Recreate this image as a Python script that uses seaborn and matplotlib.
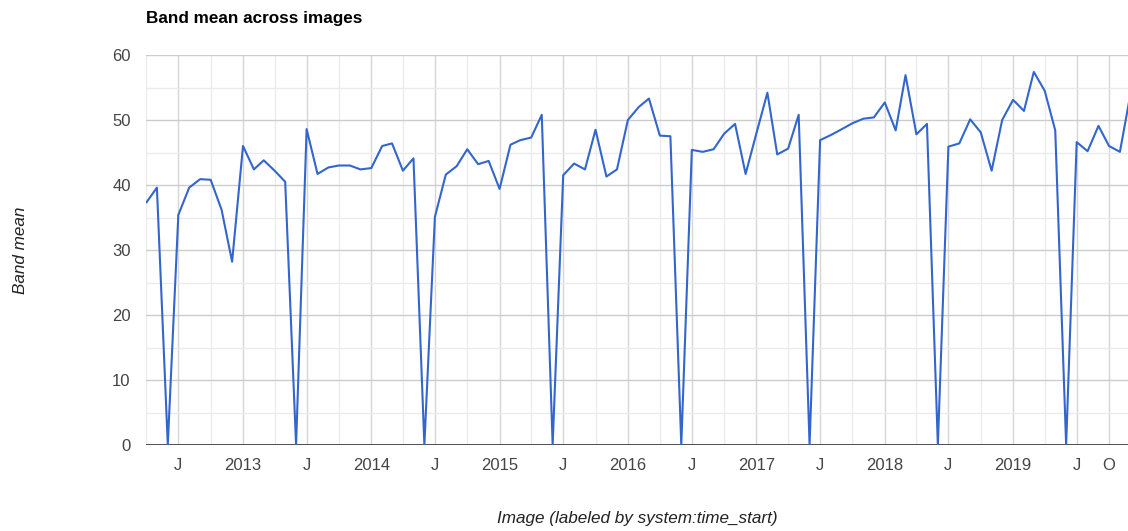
import matplotlib
matplotlib.use("Agg")
import matplotlib.pyplot as plt
import matplotlib.dates as mdates
import numpy as np
import pandas as pd
import seaborn as sns

# Monthly band mean values, one list per calendar year (2012 starts in April)
vals_2012 = [37.3, 39.6, 0.0, 35.4, 39.6, 40.9, 40.8, 36.2, 28.2]
vals_2013 = [46.0, 42.4, 43.8, 42.2, 40.5, 0.0, 48.6, 41.7, 42.7, 43.0, 43.0, 42.4]
vals_2014 = [42.6, 46.0, 46.4, 42.2, 44.1, 0.0, 35.1, 41.6, 42.9, 45.5, 43.2, 43.7]
vals_2015 = [39.4, 46.2, 46.9, 47.3, 50.8, 0.0, 41.5, 43.3, 42.4, 48.5, 41.3, 42.4]
vals_2016 = [50.0, 52.0, 53.3, 47.6, 47.5, 0.0, 45.4, 45.1, 45.5, 47.9, 49.4, 41.7]
vals_2017 = [48.0, 54.2, 44.7, 45.6, 50.8, 0.0, 46.9, 47.7, 48.6, 49.5, 50.2, 50.4]
vals_2018 = [52.7, 48.4, 56.9, 47.8, 49.4, 0.0, 45.9, 46.4, 50.1, 48.1, 42.2, 50.0]
vals_2019 = [53.1, 51.4, 57.4, 54.5, 48.4, 0.0, 46.6, 45.2, 49.1, 46.0, 45.1, 54.0]

series_start = "2012-04-01"

# Axis tick positions and their labels
tick_dates = ["2012-07-01", "2013-01-01", "2013-07-01", "2014-01-01", "2014-07-01",
              "2015-01-01", "2015-07-01", "2016-01-01", "2016-07-01", "2017-01-01",
              "2017-07-01", "2018-01-01", "2018-07-01", "2019-01-01", "2019-07-01",
              "2019-10-01"]
tick_labels = ["J", "2013", "J", "2014", "J", "2015", "J", "2016", "J", "2017",
               "J", "2018", "J", "2019", "J", "O"]
y_ticks = [0, 10, 20, 30, 40, 50, 60]

values = (vals_2012 + vals_2013 + vals_2014 + vals_2015 + vals_2016 +
          vals_2017 + vals_2018 + vals_2019)
dates = pd.date_range(series_start, periods=len(values), freq="MS")
df = pd.DataFrame({"date": dates, "band_mean": values})

sns.set_style("white")
plt.rcParams["font.family"] = ["Liberation Sans", "DejaVu Sans"]

fig = plt.figure(figsize=(11.28, 5.31), dpi=100)
ax = fig.add_axes([146 / 1128, 1 - 445 / 531, 1 - 146 / 1128, 390 / 531])

sns.lineplot(data=df, x="date", y="band_mean", ax=ax, color="#3366cc",
             linewidth=1.5, zorder=3)

ax.set_ylim(0, 60)
ax.set_xlim(mdates.date2num(pd.Timestamp("2012-03-31")),
            mdates.date2num(pd.Timestamp("2019-11-24")))

# Gridlines: labeled ticks slightly darker, quarter/half-step lines lighter
ax.set_yticks(y_ticks)
ax.set_yticks([5, 15, 25, 35, 45, 55], minor=True)
ax.set_xticks([mdates.date2num(pd.Timestamp(d)) for d in tick_dates])
ax.set_xticklabels(tick_labels)
minor_x = pd.date_range("2012-04-01", "2019-10-01", freq="QS-JAN")
minor_x = [d for d in minor_x if d.strftime("%Y-%m-%d") not in tick_dates]
ax.set_xticks([mdates.date2num(d) for d in minor_x], minor=True)

ax.grid(which="major", axis="y", color="#cccccc", linewidth=1.0, zorder=0)
ax.grid(which="major", axis="x", color="#d6d6d6", linewidth=1.0, zorder=0)
ax.grid(which="minor", axis="both", color="#ebebeb", linewidth=1.0, zorder=0)
ax.set_axisbelow(True)
ax.axhline(0, color="#333333", linewidth=1.2, zorder=2)

for side in ["top", "right", "left", "bottom"]:
    ax.spines[side].set_visible(False)

ax.tick_params(axis="both", which="both", length=0)
ax.tick_params(axis="x", which="major", pad=9, labelsize=12, labelcolor="#444444")
ax.tick_params(axis="y", which="major", pad=11, labelsize=12, labelcolor="#444444")

ax.set_xlabel("Image (labeled by system:time_start)", fontsize=12.3,
              fontstyle="italic", color="#222222")
ax.xaxis.set_label_coords(0.5, -0.17)
ax.set_ylabel("Band mean", fontsize=12.3, fontstyle="italic", color="#222222")
ax.yaxis.set_label_coords(-0.12, 0.5)

fig.text(146 / 1128, 1 - 18 / 531, "Band mean across images", fontsize=12.3,
         fontweight="bold", color="#000000", ha="left", va="center")

fig.savefig("out.png", dpi=100, facecolor="white")
